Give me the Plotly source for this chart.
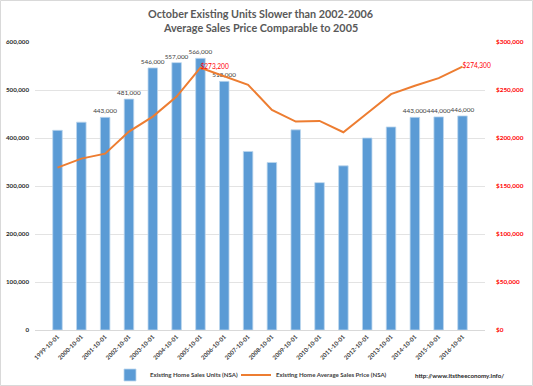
import plotly.graph_objects as go

dates = ["1999-10-01", "2000-10-01", "2001-10-01", "2002-10-01", "2003-10-01", "2004-10-01",
         "2005-10-01", "2006-10-01", "2007-10-01", "2008-10-01", "2009-10-01", "2010-10-01",
         "2011-10-01", "2012-10-01", "2013-10-01", "2014-10-01", "2015-10-01", "2016-10-01"]
units = [416000, 433000, 443000, 481000, 546000, 557000, 566000, 518000, 372000, 349000,
         417000, 307000, 342000, 400000, 423000, 443000, 444000, 446000]
price = [169100, 178500, 183700, 206700, 222300, 243200, 273200, 264500, 255400, 229300,
         217100, 217800, 206000, 225700, 245700, 254400, 262400, 274300]
unit_labeled = ["2001-10-01", "2002-10-01", "2003-10-01", "2004-10-01", "2005-10-01",
                "2006-10-01", "2014-10-01", "2015-10-01", "2016-10-01"]
price_labeled = ["2005-10-01", "2016-10-01"]
title_lines = ["October Existing Units Slower than 2002-2006", "Average Sales Price Comparable to 2005"]

unit_text = [f"{v:,}" if d in unit_labeled else "" for d, v in zip(dates, units)]
price_text = [f"${v:,}" if d in price_labeled else "" for d, v in zip(dates, price)]

FONT = "Lato"
W, H = 533, 386
L, R, T, B = 35, 48, 42, 56
pw = W - L - R
ph = H - T - B

fig = go.Figure()
fig.add_trace(go.Bar(
    x=dates, y=units, name="Existing Home Sales Units (NSA)", legend="legend",
    marker=dict(color="#5B9BD5", line=dict(color="#BDD7EE", width=0.8)),
    text=unit_text, textposition="outside", cliponaxis=False, constraintext="none",
    textfont=dict(family=FONT, size=6.4, color="#404040"),
))
fig.add_trace(go.Scatter(
    x=dates, y=price, name="Existing Home Average Sales Price (NSA)", yaxis="y2", legend="legend2",
    mode="lines+text", line=dict(color="#ED7D31", width=2),
    text=price_text, textposition="middle right", cliponaxis=False,
    textfont=dict(family=FONT, size=6.6, color="#FF0000"),
))

legend_y = -(375 - (T + ph)) / ph

def py(px_y):
    return 1 - (px_y - T) / ph

legend_font = dict(family=FONT, size=6.1, color="#404040", weight="bold")

fig.update_layout(
    width=W, height=H,
    margin=dict(l=L, r=R, t=T, b=B, autoexpand=False),
    paper_bgcolor="white", plot_bgcolor="white",
    bargap=0.6,
    font=dict(family=FONT, color="#404040"),
    xaxis=dict(type="category", tickangle=-45, showgrid=False, automargin=False,
               showline=True, linecolor="#D9D9D9", linewidth=1,
               tickfont=dict(family=FONT, size=6, color="#404040", weight="bold")),
    yaxis=dict(range=[0, 600000], dtick=100000, tickformat=",", showgrid=True, automargin=False,
               gridcolor="#E3E3E3", gridwidth=1, zeroline=False, ticklabelstandoff=5,
               tickfont=dict(family=FONT, size=6.2, color="#262626", weight="bold")),
    yaxis2=dict(range=[0, 300000], dtick=50000, tickformat=",", tickprefix="$", automargin=False,
                overlaying="y", side="right", showgrid=False, zeroline=False,
                ticklabelstandoff=10,
                tickfont=dict(family=FONT, size=6.4, color="#FF0000", weight="bold")),
    showlegend=True,
    legend=dict(orientation="h", x=(110 - L) / pw, xanchor="left",
                y=legend_y, yanchor="middle", font=legend_font,
                itemwidth=30, bgcolor="rgba(0,0,0,0)"),
    legend2=dict(orientation="h", x=(236 - L) / pw, xanchor="left",
                 y=legend_y, yanchor="middle", font=legend_font,
                 itemwidth=30, bgcolor="rgba(0,0,0,0)"),
    annotations=[
        dict(text=title_lines[0], xref="paper", yref="paper", x=(260.5 - L) / pw, y=py(14),
             xanchor="center", yanchor="middle", showarrow=False,
             font=dict(family=FONT, size=10.8, color="#595959", weight="bold")),
        dict(text=title_lines[1], xref="paper", yref="paper", x=(260.5 - L) / pw, y=py(27),
             xanchor="center", yanchor="middle", showarrow=False,
             font=dict(family=FONT, size=10.8, color="#595959", weight="bold")),
        dict(text="http://www.itstheeconomy.info/", xref="paper", yref="paper",
             x=(413 - L) / pw, y=legend_y, xanchor="left", yanchor="middle",
             showarrow=False, font=dict(family=FONT, size=6.2, color="#262626", weight="bold")),
    ],
    shapes=[dict(type="rect", xref="paper", yref="paper",
                 x0=-(L - 0.5) / pw, x1=1 + (R - 0.5) / pw,
                 y0=-(B - 0.5) / ph, y1=1 + (T - 0.5) / ph,
                 line=dict(color="#D9D9D9", width=1), layer="below")],
)

fig.write_html("out.html", config={"displayModeBar": False},
               post_script="document.body.style.margin='0';")
